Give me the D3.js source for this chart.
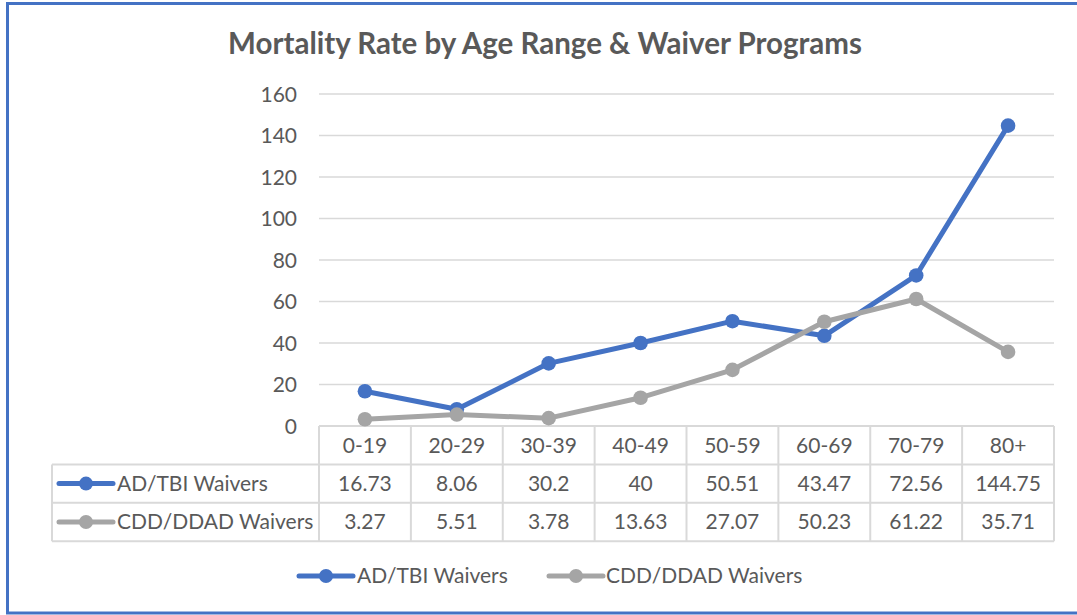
<!DOCTYPE html>
<html>
<head>
<meta charset="utf-8">
<script src="https://cdn.jsdelivr.net/npm/d3@7"></script>
<style>
  body { margin: 0; background: #fff; }
  svg text { font-family: Lato, "Open Sans", sans-serif; fill: #595959; }
</style>
</head>
<body>
<svg id="chart"></svg>
<script>
const categories = ['0-19', '20-29', '30-39', '40-49', '50-59', '60-69', '70-79', '80+'];
const adTbi = [16.73, 8.06, 30.2, 40, 50.51, 43.47, 72.56, 144.75];
const cddDdad = [3.27, 5.51, 3.78, 13.63, 27.07, 50.23, 61.22, 35.71];
const yTicks = [0, 20, 40, 60, 80, 100, 120, 140, 160];

const series = [
  { name: 'AD/TBI Waivers', values: adTbi, color: '#4472C4' },
  { name: 'CDD/DDAD Waivers', values: cddDdad, color: '#A5A5A5' }
];

const width = 1077, height = 615;
const plot = { left: 319, right: 1054, top: 94, bottom: 426 };
const rowH = 38.4;
const tableLeft = 52;
const fs = 21;

const svg = d3.select('#chart').attr('width', width).attr('height', height);

// chart frame
svg.append('rect')
  .attr('x', 7.5).attr('y', 3.5)
  .attr('width', 1100).attr('height', 609.5)
  .attr('fill', 'none').attr('stroke', '#4472C4').attr('stroke-width', 3);

svg.append('text')
  .attr('x', 545).attr('y', 54)
  .attr('text-anchor', 'middle')
  .attr('font-size', 29.5).attr('font-weight', 'bold')
  .text('Mortality Rate by Age Range & Waiver Programs');

let x = d3.scaleBand().domain(categories).range([plot.left, plot.right]);
let y = d3.scaleLinear().domain([0, 160]).range([plot.bottom, plot.top]);

// gridlines
svg.append('g')
  .selectAll('line')
  .data(yTicks.filter(d => d > 0))
  .enter().append('line')
  .attr('x1', plot.left).attr('x2', plot.right)
  .attr('y1', d => y(d)).attr('y2', d => y(d))
  .attr('stroke', '#D9D9D9').attr('stroke-width', 1.3);

let yAxis = d3.axisLeft(y).tickValues(yTicks).tickSize(0).tickPadding(22);
let yg = svg.append('g')
  .attr('transform', `translate(${plot.left}, 0)`)
  .call(yAxis);
yg.select('.domain').remove();
yg.selectAll('text').attr('font-size', fs).attr('dy', '0.35em').style('fill', '#595959');

// data table
let table = svg.append('g').attr('stroke', '#D9D9D9').attr('stroke-width', 2).attr('fill', 'none');
let tableBottom = plot.bottom + rowH * 3;
table.append('line').attr('x1', plot.left).attr('x2', plot.right).attr('y1', plot.bottom).attr('y2', plot.bottom);
[1, 2, 3].forEach(i => {
  table.append('line')
    .attr('x1', tableLeft).attr('x2', plot.right)
    .attr('y1', plot.bottom + rowH * i).attr('y2', plot.bottom + rowH * i);
});
table.append('line').attr('x1', tableLeft).attr('x2', tableLeft)
  .attr('y1', plot.bottom + rowH).attr('y2', tableBottom);
table.selectAll('.vline')
  .data(categories.concat(['end']))
  .enter().append('line')
  .attr('x1', (d, i) => i < categories.length ? x(d) : plot.right)
  .attr('x2', (d, i) => i < categories.length ? x(d) : plot.right)
  .attr('y1', plot.bottom).attr('y2', tableBottom);

// header row
svg.append('g').selectAll('text')
  .data(categories)
  .enter().append('text')
  .attr('x', d => x(d) + x.bandwidth() / 2)
  .attr('y', plot.bottom + rowH / 2)
  .attr('dy', '0.35em')
  .attr('text-anchor', 'middle')
  .attr('font-size', fs)
  .text(d => d);

function legendKey(g, cx, cy, color) {
  g.append('line')
    .attr('x1', cx - 27).attr('x2', cx + 27)
    .attr('y1', cy).attr('y2', cy)
    .attr('stroke', color).attr('stroke-width', 5).attr('stroke-linecap', 'round');
  g.append('circle').attr('cx', cx).attr('cy', cy).attr('r', 7).attr('fill', color);
}

series.forEach((s, si) => {
  let rowY = plot.bottom + rowH * (si + 1) + rowH / 2;
  let row = svg.append('g');
  legendKey(row, 86, rowY, s.color);
  row.append('text')
    .attr('x', 117).attr('y', rowY).attr('dy', '0.35em')
    .attr('font-size', fs).text(s.name);
  row.selectAll('.val')
    .data(s.values)
    .enter().append('text')
    .attr('x', (d, i) => x(categories[i]) + x.bandwidth() / 2)
    .attr('y', rowY).attr('dy', '0.35em')
    .attr('text-anchor', 'middle')
    .attr('font-size', fs)
    .text(d => d);
});

// lines and markers
let line = d3.line()
  .x((d, i) => x(categories[i]) + x.bandwidth() / 2)
  .y(d => y(d));

series.forEach(s => {
  let g = svg.append('g');
  g.append('path')
    .datum(s.values)
    .attr('d', line)
    .attr('fill', 'none')
    .attr('stroke', s.color)
    .attr('stroke-width', 5)
    .attr('stroke-linejoin', 'round')
    .attr('stroke-linecap', 'round');
  g.selectAll('circle')
    .data(s.values)
    .enter().append('circle')
    .attr('cx', (d, i) => x(categories[i]) + x.bandwidth() / 2)
    .attr('cy', d => y(d))
    .attr('r', 7.3)
    .attr('fill', s.color);
});

// legend
let legend = svg.append('g');
legendKey(legend, 326, 576, series[0].color);
legend.append('text').attr('x', 357).attr('y', 576).attr('dy', '0.35em').attr('font-size', fs).text(series[0].name);
legendKey(legend, 576, 576, series[1].color);
legend.append('text').attr('x', 606).attr('y', 576).attr('dy', '0.35em').attr('font-size', fs).text(series[1].name);
</script>
</body>
</html>
